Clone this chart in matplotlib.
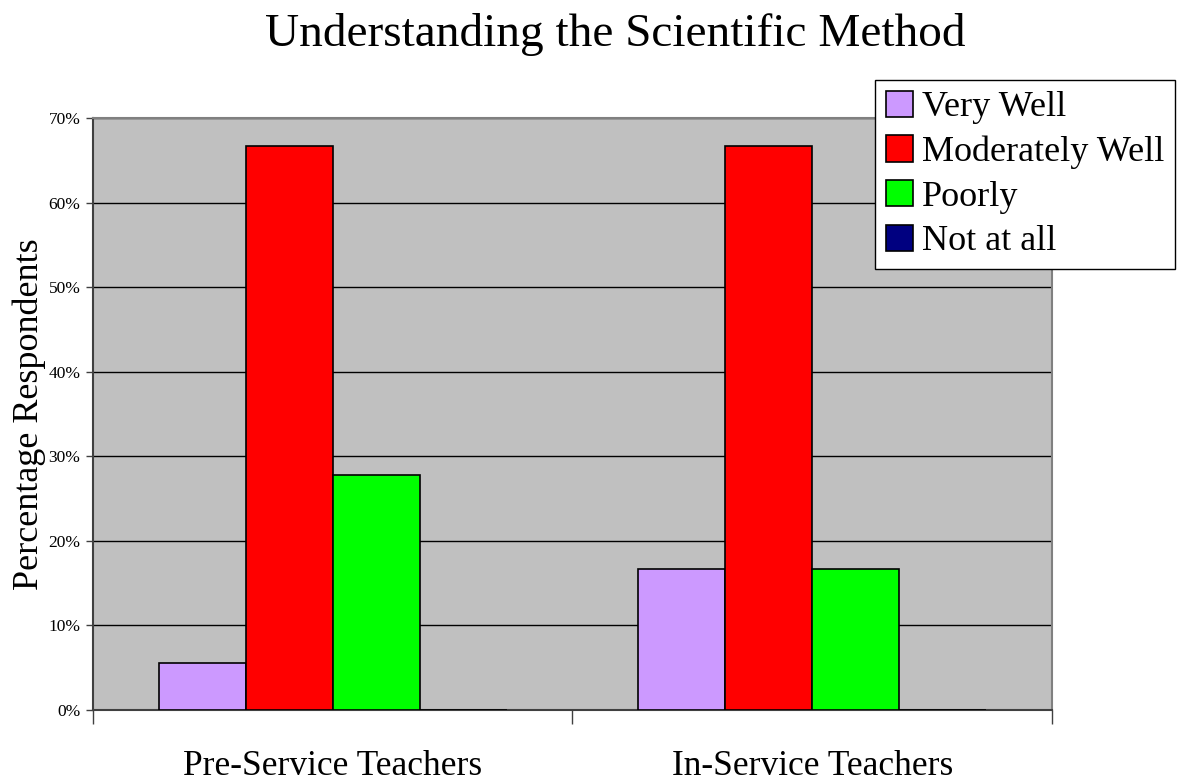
import matplotlib
matplotlib.use("Agg")
import matplotlib.pyplot as plt
import numpy as np
from matplotlib.ticker import PercentFormatter

plt.rcParams.update({
    "font.family": ["Liberation Serif", "DejaVu Serif"],
})

groups = ["Pre-Service Teachers", "In-Service Teachers"]
series = ["Very Well", "Moderately Well", "Poorly", "Not at all"]
very_well = [5.6, 16.7]
moderately_well = [66.7, 66.7]
poorly = [27.8, 16.7]
not_at_all = [0.0, 0.0]
colors = ["#CC99FF", "#FF0000", "#00FF00", "#000080"]

values = [very_well, moderately_well, poorly, not_at_all]

fig = plt.figure(figsize=(11.78, 7.82), dpi=100)
ax = fig.add_axes([0.0789, 0.0921, 0.8141, 0.7569])
ax.set_facecolor("#C0C0C0")

x = np.arange(len(groups))
width = 0.1815
for j, (name, vals, c) in enumerate(zip(series, values, colors)):
    offset = (j - (len(series) - 1) / 2) * width
    ax.bar(x + offset, vals, width, color=c, edgecolor="black",
           linewidth=1.2, label=name, zorder=3)

ax.set_xlim(-0.5, 1.5)
ax.set_ylim(0, 70)
ax.set_yticks(np.arange(0, 71, 10))
ax.yaxis.set_major_formatter(PercentFormatter(decimals=0))
ax.grid(axis="y", color="black", linewidth=1.0, zorder=1)
ax.set_axisbelow(True)

ax.set_xticks(x)
ax.set_xticklabels(groups, fontsize=25.5)
ax.tick_params(axis="x", which="major", length=0, pad=29)
ax.set_xticks([-0.5, 0.5, 1.5], minor=True)
ax.tick_params(axis="x", which="minor", length=10, color="#404040", width=1)
ax.tick_params(axis="y", labelsize=12.5, length=5, width=1, color="#404040", pad=4)

for s in ["top", "right"]:
    ax.spines[s].set_color("#808080")
    ax.spines[s].set_linewidth(1.5)
for s in ["left", "bottom"]:
    ax.spines[s].set_color("#404040")
    ax.spines[s].set_linewidth(1.5)

ax.set_ylabel("Percentage Respondents", fontsize=26, labelpad=2)
fig.suptitle("Understanding the Scientific Method", fontsize=34, x=0.522, y=0.983)

leg = fig.legend(loc="upper left", bbox_to_anchor=(0.743, 0.898), fontsize=26,
                 frameon=True, fancybox=False, edgecolor="black", framealpha=1,
                 handlelength=0.75, handleheight=0.75, handletextpad=0.25,
                 labelspacing=0.3, borderpad=0.3, borderaxespad=0)
leg.get_frame().set_linewidth(1.0)

fig.savefig("out.png", dpi=100)
